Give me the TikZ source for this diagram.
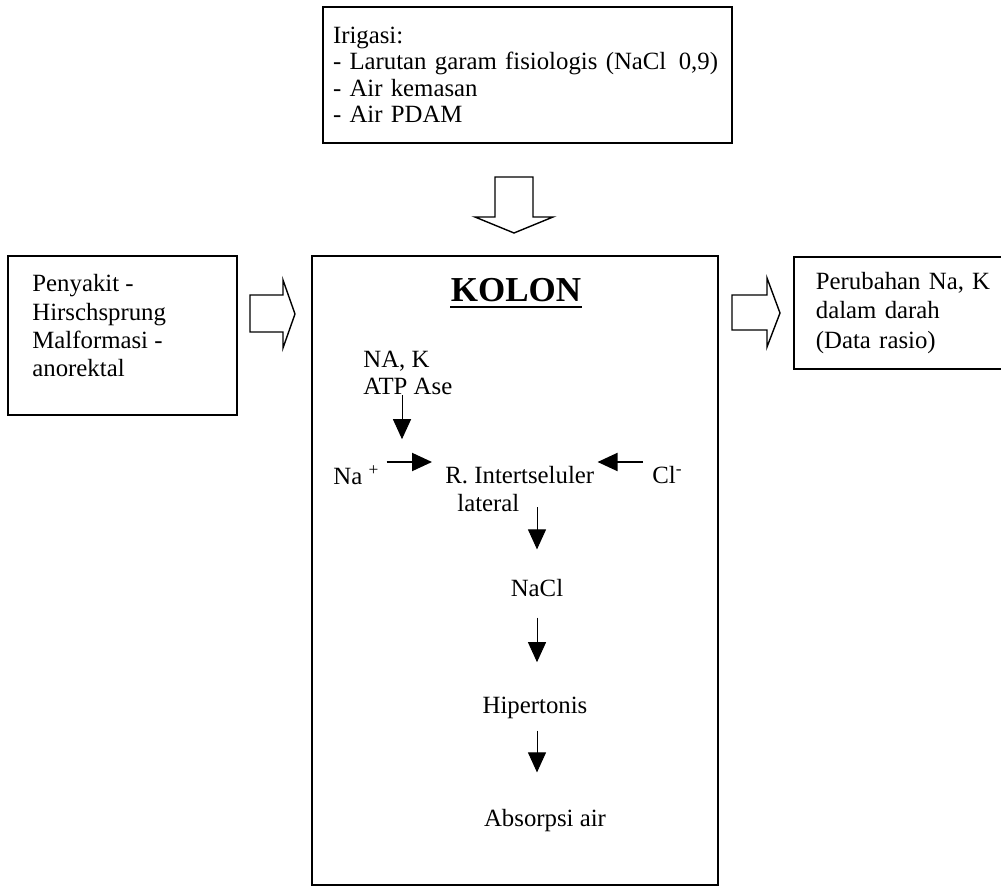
\documentclass[tikz,border=0pt]{standalone}
\usepackage{fontspec}
\setmainfont{Liberation Serif}
\usetikzlibrary{positioning,arrows.meta}
\tikzset{box/.style={draw,line width=0.9pt,inner sep=0pt},
	 txt/.style={inner sep=0pt,font=\fontsize{12.4}{13.2}\selectfont},
	 flow/.style={-{Triangle[length=10pt,width=9pt]},line width=0.5pt},
	 side/.style={-{Triangle[length=10pt,width=9pt]},line width=1pt},
	 hollow/.style={draw,line width=0.7pt,line join=miter}
	 }

\begin{document}
\begin{tikzpicture}[x=0.5pt,y=-0.5pt] % pixel grid of the scan
	\clip (0,0) rectangle (1001,887);
	\node[box,txt] (irig) at (527.5,75) [align=left,text width=194.5pt,inner xsep=5pt,minimum height=68pt] {Irigasi:\\\mbox{- Larutan garam fisiologis (NaCl\,~0,9)}\\- Air kemasan\\- Air PDAM};
	\node[box] (kolon) at (515,570.5) [minimum width=203pt,minimum height=314.5pt] {};
	\node[box] (kiri) at (122.5,335.5) [minimum width=114.5pt,minimum height=79.5pt] {};
	\node[txt] (kiritxt) at (32,274) [anchor=north west,align=left,font=\fontsize{12.4}{14.2}\selectfont] {Penyakit -\\Hirschsprung\\Malformasi -\\anorektal};
	\node[box,txt] (kanan) at (793,256) [anchor=north west,align=left,text width=95pt,inner xsep=11pt,minimum height=56pt,font=\fontsize{12.4}{14.75}\selectfont] {Perubahan Na, K\\dalam darah\\(Data rasio)};
	% block arrows
	\draw[hollow] (495,177) -- (495,217) -- (475,217) -- (514,233) -- (553,217) -- (533,217) -- (533,177) -- cycle;
	\draw[hollow] (250,295) -- (283,295) -- (283,280) -- (295,314) -- (283,348) -- (283,332) -- (250,332) -- cycle;
	\draw[hollow] (732,295) -- (767,295) -- (767,278) -- (780,313) -- (767,347) -- (767,330) -- (732,330) -- cycle;
	% inside the colon
	\node (judul) at (516,302) [anchor=base,inner sep=0pt,font=\fontsize{17.5}{20}\selectfont\bfseries] {KOLON};
	\draw[line width=1.1pt] ([yshift=-2.5pt]judul.base west) -- ([yshift=-2.5pt]judul.base east);
	\node[txt] (natp) at (363,373) [anchor=west,align=left,font=\fontsize{12.4}{13.5}\selectfont] {NA, K\\ATP Ase};
	\node[txt] (na) at (333,475) [anchor=west] {Na~\textsuperscript{+}};
	\node[txt] (rint) at (445,475) [anchor=west] {R. Intertseluler};
	\node[txt] (lat) at (457,503) [anchor=west] {lateral};
	\node[txt] (cl) at (652,475) [anchor=west] {Cl\textsuperscript{-}};
	\node[txt] (nacl) at (537,596) [anchor=base] {NaCl};
	\node[txt] (hiper) at (535,713) [anchor=base] {Hipertonis};
	\node[txt] (absorp) at (545,826) [anchor=base] {Absorpsi air};
	\draw[flow] ([xshift=19.5pt]natp.south west) -- ++(0,44);
	\draw[side] ([xshift=3.5pt,yshift=6.5pt]na.east) -- ([xshift=-6.5pt,yshift=6.5pt]rint.west);
	\draw[side] ([xshift=-4.5pt,yshift=6.5pt]cl.west) -- ([xshift=1.5pt,yshift=6.5pt]rint.east);
	\draw[flow,shorten <=2pt,shorten >=14.5pt] (nacl.north |- lat.east) -- (nacl.north);
	\draw[flow,shorten <=10.5pt,shorten >=17pt] (nacl.south) -- (nacl.south |- hiper.north);
	\draw[flow,shorten <=6pt,shorten >=18pt] (nacl.south |- hiper.south) -- (nacl.south |- absorp.north);
\end{tikzpicture}
\end{document}
